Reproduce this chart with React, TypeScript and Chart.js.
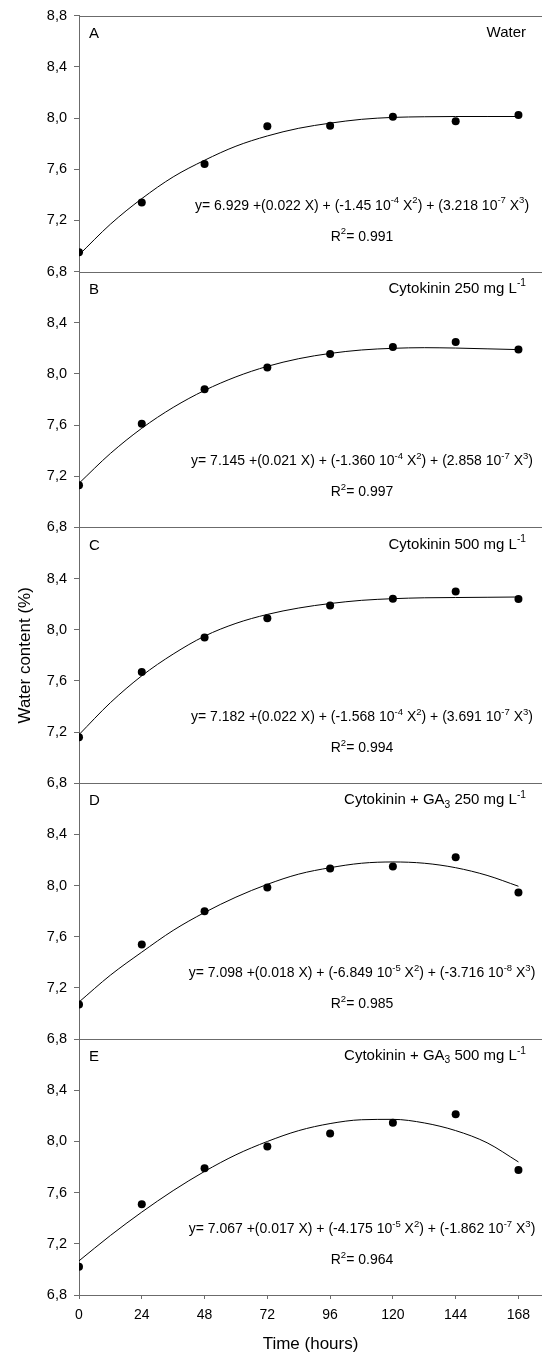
import React, { useEffect, useRef } from 'react';
import { Chart, registerables } from 'chart.js';

Chart.register(...registerables);

// ---------- data ----------
const hours = [0, 24, 48, 72, 96, 120, 144, 168];
const curveHours = [0, 12, 24, 36, 48, 60, 72, 84, 96, 108, 120, 132, 144, 156, 168];
const xTicks = [0, 24, 48, 72, 96, 120, 144, 168];
const yTicks = [6.8, 7.2, 7.6, 8.0, 8.4, 8.8];

const panelLetters = ['A', 'B', 'C', 'D', 'E'];
const treatments = [
  'Water',
  'Cytokinin 250 mg L^{-1}',
  'Cytokinin 500 mg L^{-1}',
  'Cytokinin + GA_{3} 250 mg L^{-1}',
  'Cytokinin + GA_{3} 500 mg L^{-1}',
];

const waterObs = [6.95, 7.34, 7.64, 7.935, 7.94, 8.01, 7.975, 8.024];
const cyt250Obs = [7.13, 7.61, 7.88, 8.05, 8.155, 8.21, 8.25, 8.19];
const cyt500Obs = [7.16, 7.67, 7.94, 8.09, 8.19, 8.243, 8.3, 8.24];
const cytGa250Obs = [7.07, 7.54, 7.8, 7.985, 8.133, 8.149, 8.222, 7.946];
const cytGa500Obs = [7.02, 7.51, 7.79, 7.96, 8.063, 8.146, 8.212, 7.777];

const waterFit = [6.93, 7.17, 7.37, 7.54, 7.67, 7.78, 7.86, 7.92, 7.96, 7.99, 8.005, 8.01, 8.012, 8.012, 8.012];
const cyt250Fit = [7.145, 7.378, 7.575, 7.738, 7.871, 7.977, 8.059, 8.119, 8.16, 8.187, 8.2, 8.205, 8.202, 8.196, 8.19];
const cyt500Fit = [7.18, 7.43, 7.64, 7.81, 7.95, 8.05, 8.12, 8.17, 8.205, 8.23, 8.243, 8.25, 8.252, 8.254, 8.256];
const cytGa250Fit = [7.09, 7.3, 7.48, 7.65, 7.79, 7.91, 8.01, 8.09, 8.14, 8.175, 8.185, 8.175, 8.14, 8.08, 7.995];
const cytGa500Fit = [7.067, 7.265, 7.448, 7.616, 7.766, 7.896, 8.0, 8.085, 8.14, 8.17, 8.173, 8.145, 8.085, 7.99, 7.84];

const equations = [
  'y= 6.929 +(0.022 X) + (-1.45 10^{-4} X^{2}) + (3.218 10^{-7} X^{3})',
  'y= 7.145 +(0.021 X) + (-1.360 10^{-4} X^{2}) + (2.858 10^{-7} X^{3})',
  'y= 7.182 +(0.022 X) + (-1.568 10^{-4} X^{2}) + (3.691 10^{-7} X^{3})',
  'y= 7.098 +(0.018 X) + (-6.849 10^{-5} X^{2}) + (-3.716 10^{-8} X^{3})',
  'y= 7.067 +(0.017 X) + (-4.175 10^{-5} X^{2}) + (-1.862 10^{-7} X^{3})',
];
const r2Values = ['0.991', '0.997', '0.994', '0.985', '0.964'];

const observed = [waterObs, cyt250Obs, cyt500Obs, cytGa250Obs, cytGa500Obs];
const fitted = [waterFit, cyt250Fit, cyt500Fit, cytGa250Fit, cytGa500Fit];

// ---------- style ----------
const FONT = '"Liberation Sans", Arial, sans-serif';
const AXIS_COLOR = '#6b6b6b';
const axisIds = ['yA', 'yB', 'yC', 'yD', 'yE'];

type Seg = { t: string; k: 'n' | 'sup' | 'sub' };
function parseRich(s: string): Seg[] {
  const segs: Seg[] = [];
  const re = /([\^_])\{([^}]*)\}/g;
  let last = 0;
  let m: RegExpExecArray | null;
  while ((m = re.exec(s))) {
    if (m.index > last) segs.push({ t: s.slice(last, m.index), k: 'n' });
    segs.push({ t: m[2], k: m[1] === '^' ? 'sup' : 'sub' });
    last = re.lastIndex;
  }
  if (last < s.length) segs.push({ t: s.slice(last), k: 'n' });
  return segs;
}

function drawRich(ctx: CanvasRenderingContext2D, s: string, x: number, y: number, align: 'left' | 'center' | 'right', size: number) {
  const segs = parseRich(s);
  const small = size * 0.68;
  const fontN = `${size}px ${FONT}`;
  const fontS = `${small}px ${FONT}`;
  let total = 0;
  const widths = segs.map((sg) => {
    ctx.font = sg.k === 'n' ? fontN : fontS;
    const w = ctx.measureText(sg.t).width;
    total += w;
    return w;
  });
  let cx = align === 'center' ? x - total / 2 : align === 'right' ? x - total : x;
  ctx.textAlign = 'left';
  ctx.textBaseline = 'middle';
  ctx.fillStyle = '#000';
  segs.forEach((sg, i) => {
    ctx.font = sg.k === 'n' ? fontN : fontS;
    const dy = sg.k === 'sup' ? -size * 0.36 : sg.k === 'sub' ? size * 0.3 : 0;
    ctx.fillText(sg.t, cx, y + dy);
    cx += widths[i];
  });
}

const panelDecor = {
  id: 'panelDecor',
  afterDraw(chart: any) {
    const ctx: CanvasRenderingContext2D = chart.ctx;
    const area = chart.chartArea;
    ctx.save();
    axisIds.forEach((id, i) => {
      const s = chart.scales[id];
      if (!s) return;
      ctx.strokeStyle = AXIS_COLOR;
      ctx.lineWidth = 1;
      ctx.beginPath();
      const yt = Math.round(s.top) + 0.5;
      ctx.moveTo(area.left, yt);
      ctx.lineTo(area.right, yt);
      ctx.stroke();
      const top = s.top;
      // panel letter
      ctx.font = `15px ${FONT}`;
      ctx.fillStyle = '#000';
      ctx.textAlign = 'left';
      ctx.textBaseline = 'middle';
      ctx.fillText(panelLetters[i], area.left + 10, top + 18);
      // treatment label
      drawRich(ctx, treatments[i], area.right - 16, top + 17, 'right', 15);
      // equation + R2
      drawRich(ctx, equations[i], 362, top + 190, 'center', 14);
      drawRich(ctx, 'R^{2}= ' + r2Values[i], 362, top + 221, 'center', 14);
    });
    ctx.restore();
  },
};

export default function App() {
  const ref = useRef<HTMLCanvasElement | null>(null);

  useEffect(() => {
    if (!ref.current) return;
    const datasets: any[] = [];
    axisIds.forEach((id, i) => {
      datasets.push({
        type: 'scatter',
        label: treatments[i] + ' obs',
        data: hours.map((h, j) => ({ x: h, y: observed[i][j] })),
        yAxisID: id,
        xAxisID: 'x',
        pointRadius: 4,
        pointHoverRadius: 4,
        backgroundColor: '#000',
        borderColor: '#000',
        borderWidth: 0,
        showLine: false,
        order: 0,
      });
      datasets.push({
        type: 'line',
        label: treatments[i] + ' fit',
        data: curveHours.map((h, j) => ({ x: h, y: fitted[i][j] })),
        yAxisID: id,
        xAxisID: 'x',
        pointRadius: 0,
        borderColor: '#000',
        borderWidth: 1,
        fill: false,
        cubicInterpolationMode: 'monotone',
        order: 1,
      });
    });

    const scales: any = {
      x: {
        type: 'linear',
        position: 'bottom',
        min: 0,
        max: 177,
        afterBuildTicks: (axis: any) => {
          axis.ticks = xTicks.map((v) => ({ value: v }));
        },
        afterFit: (scale: any) => {
          scale.height = 63;
        },
        border: { display: true, color: AXIS_COLOR, width: 1 },
        grid: { display: true, drawOnChartArea: false, drawTicks: true, tickLength: 4, color: AXIS_COLOR },
        ticks: { color: '#000', font: { family: FONT, size: 14 }, padding: 8, maxRotation: 0, autoSkip: false },
        title: { display: true, text: 'Time (hours)', color: '#000', font: { family: FONT, size: 17 }, padding: { top: 0, bottom: 3 } },
      },
    };
    // stacked y axes: first defined is placed at the bottom
    [...axisIds].reverse().forEach((id) => {
      const i = axisIds.indexOf(id);
      scales[id] = {
        type: 'linear',
        position: 'left',
        stack: 'panels',
        stackWeight: 1,
        offset: false,
        min: 6.8,
        max: 8.8,
        afterBuildTicks: (axis: any) => {
          axis.ticks = yTicks.filter((v) => i === 0 || v < 8.7).map((v) => ({ value: v }));
        },
        afterFit: (scale: any) => {
          scale.width = 79;
        },
        border: { display: true, color: AXIS_COLOR, width: 1 },
        grid: { display: true, drawOnChartArea: false, drawTicks: true, tickLength: 5, color: AXIS_COLOR },
        ticks: {
          color: '#000',
          font: { family: FONT, size: 14.5 },
          padding: 7,
          autoSkip: false,
          callback: (v: any) => Number(v).toFixed(1).replace('.', ','),
        },
        title: {
          display: i === 2,
          text: 'Water content (%)',
          color: '#000',
          font: { family: FONT, size: 17 },
          padding: { top: 15, bottom: 0 },
        },
      };
    });

    const chart = new Chart(ref.current, {
      type: 'scatter',
      data: { datasets },
      options: {
        responsive: false,
        animation: false,
        maintainAspectRatio: false,
        layout: { autoPadding: false, padding: { top: 15, right: 0, bottom: 0, left: 0 } },
        plugins: { legend: { display: false }, tooltip: { enabled: false } },
        scales,
      },
      plugins: [panelDecor],
    } as any);
    return () => chart.destroy();
  }, []);

  return (
    <div style={{ position: 'absolute', left: 0, top: 0, width: 542, height: 1358, background: '#fff' }}>
      <canvas ref={ref} width={542} height={1358} style={{ display: 'block' }} />
    </div>
  );
}
